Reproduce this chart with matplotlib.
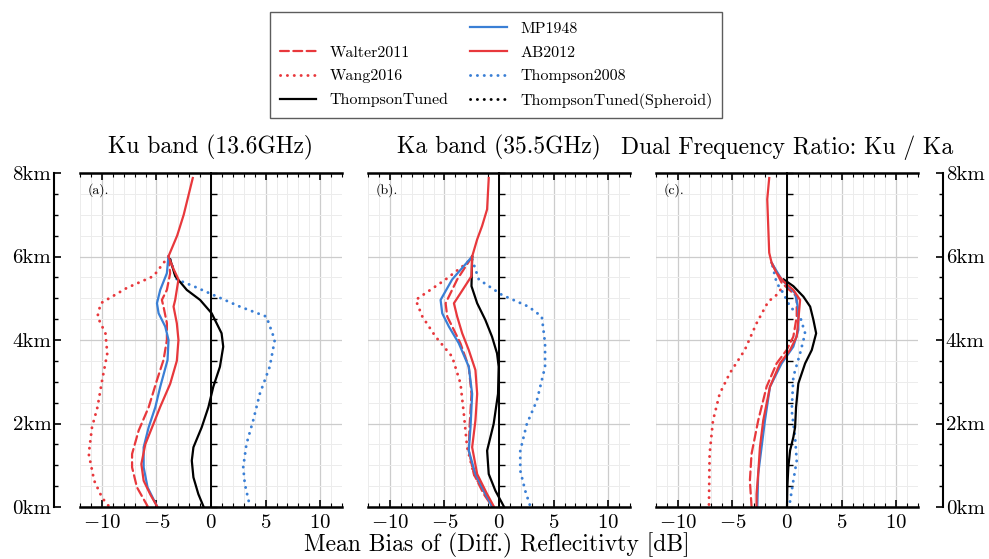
import matplotlib
matplotlib.use('Agg')
import matplotlib.pyplot as plt
from matplotlib.ticker import MultipleLocator, FuncFormatter, NullLocator
from matplotlib.lines import Line2D

plt.rcParams['font.family'] = 'serif'
plt.rcParams['font.serif'] = ['cmr10']
plt.rcParams['mathtext.fontset'] = 'cm'
plt.rcParams['axes.formatter.use_mathtext'] = True

# ---------------- data ----------------
titles = ["Ku band (13.6GHz)", "Ka band (35.5GHz)", "Dual Frequency Ratio: Ku / Ka"]
panel_tags = ["(a).", "(b).", "(c)."]

# Ku band
ku_ab_h = [7.88, 7.0, 6.5, 6.0, 5.7, 5.45, 4.96, 4.8, 4.4, 4.0, 3.5, 2.95, 2.4, 1.9, 1.5, 1.03, 0.63, 0.3, 0.02]
ku_ab_v = [-1.67, -2.5, -3.1, -3.9, -3.43, -2.98, -3.28, -3.43, -3.13, -2.98, -3.13, -3.74, -4.65, -5.41, -6.02, -6.38, -6.17, -5.56, -4.95]
ku_mp_h = [6.0, 5.6, 5.2, 4.88, 4.64, 4.32, 4.0, 3.52, 2.88, 2.39, 1.91, 1.43, 0.95, 0.47, 0.02]
ku_mp_v = [-3.9, -4.04, -4.65, -4.95, -4.8, -4.19, -3.89, -3.98, -4.65, -5.1, -5.71, -6.17, -6.17, -5.81, -4.95]
ku_walter_h = [6.0, 5.6, 5.2, 4.96, 4.8, 4.4, 4.0, 3.52, 3.04, 2.39, 1.83, 1.27, 0.95, 0.47, 0.02]
ku_walter_v = [-3.9, -3.74, -4.04, -4.5, -4.35, -4.04, -4.04, -4.35, -4.95, -5.71, -6.63, -7.23, -7.23, -6.78, -5.81]
ku_wang_h = [6.0, 5.53, 5.25, 4.88, 4.56, 4.16, 3.68, 3.04, 2.39, 1.91, 1.27, 0.63, 0.22, 0.02]
ku_wang_v = [-3.9, -5.26, -7.69, -10.1, -10.4, -9.67, -9.5, -9.97, -10.4, -10.9, -11.2, -10.7, -9.97, -9.36]
ku_tt_h = [5.93, 5.53, 5.2, 4.96, 4.64, 4.16, 3.84, 3.36, 2.88, 2.39, 1.91, 1.43, 1.11, 0.71, 0.31, 0.02]
ku_tt_v = [-3.74, -3.28, -2.22, -1.0, 0.06, 0.97, 1.12, 0.82, 0.21, -0.24, -0.85, -1.61, -1.76, -1.61, -1.16, -0.7]
ku_t08_h = [5.93, 5.45, 5.29, 5.08, 4.8, 4.56, 4.0, 3.36, 2.71, 2.07, 1.51, 0.95, 0.55, 0.02]
ku_t08_v = [-3.74, -3.13, -1.61, 0.21, 2.64, 5.08, 5.84, 5.38, 4.47, 3.86, 3.25, 2.95, 3.1, 3.56]

# Ka band
ka_ab_h = [7.88, 7.13, 6.73, 6.41, 6.0, 5.53, 5.12, 4.88, 4.56, 4.16, 3.76, 3.28, 2.71, 2.07, 1.43, 0.79, 0.31, 0.02]
ka_ab_v = [-0.94, -1.09, -1.55, -2.0, -2.46, -2.52, -3.53, -4.13, -3.83, -3.37, -2.77, -2.16, -2.0, -2.16, -2.46, -2.0, -1.09, -0.49]
ka_mp_h = [6.0, 5.45, 4.96, 4.64, 4.32, 3.92, 3.36, 2.71, 1.91, 1.35, 0.79, 0.31, 0.02]
ka_mp_v = [-2.46, -4.29, -5.35, -5.2, -4.59, -3.68, -2.77, -2.46, -2.61, -2.77, -2.16, -1.25, -0.64]
ka_walter_h = [6.0, 5.45, 4.88, 4.56, 4.32, 3.92, 3.36, 2.71, 1.91, 1.35, 0.79, 0.31, 0.02]
ka_walter_v = [-2.46, -3.83, -4.89, -4.74, -4.28, -3.53, -2.77, -2.52, -2.7, -2.77, -2.31, -1.4, -0.64]
ka_wang_h = [6.0, 5.85, 5.45, 4.96, 4.56, 4.08, 3.6, 2.96, 2.23, 1.43, 0.79, 0.31, 0.02]
ka_wang_v = [-2.46, -2.92, -4.89, -7.63, -7.02, -5.81, -4.29, -3.53, -3.22, -2.92, -2.31, -1.25, -0.64]
ka_tt_h = [6.0, 5.29, 4.88, 4.48, 4.08, 3.68, 3.36, 2.71, 1.99, 1.35, 0.79, 0.39, 0.02]
ka_tt_v = [-2.46, -2.52, -2.0, -1.25, -0.64, -0.18, -0.03, -0.09, -0.49, -1.09, -0.94, -0.33, 0.43]
ka_t08_h = [5.93, 5.45, 5.08, 4.8, 4.56, 3.92, 3.36, 2.55, 1.99, 1.35, 0.87, 0.39, 0.02]
ka_t08_v = [-2.46, -1.85, 0.27, 2.7, 3.92, 4.22, 4.22, 3.47, 2.55, 1.95, 1.95, 2.4, 2.86]

# Dual frequency ratio
dfr_ab_h = [7.88, 7.37, 6.73, 6.09, 5.85, 5.6, 5.41, 5.2, 4.96, 4.48, 4.08, 3.76, 3.44, 2.88, 2.07, 1.43, 0.79, 0.31, 0.02]
dfr_ab_v = [-1.63, -1.81, -1.72, -1.63, -1.41, -0.95, -0.34, 0.58, 1.2, 1.04, 0.89, 0.28, -0.64, -1.56, -2.18, -2.48, -2.64, -2.79, -2.79]
dfr_mp_h = [5.85, 5.45, 5.12, 4.72, 4.24, 3.84, 3.44, 2.88, 2.07, 1.43, 0.79, 0.02]
dfr_mp_v = [-1.41, -0.49, 0.74, 1.04, 1.04, 0.58, -0.49, -1.56, -2.02, -2.33, -2.64, -2.72]
dfr_walter_h = [5.85, 5.37, 5.04, 4.56, 4.08, 3.76, 3.44, 2.88, 2.07, 1.27, 0.63, 0.02]
dfr_walter_v = [-1.41, -0.49, 0.89, 0.89, 0.58, -0.03, -0.95, -1.87, -2.64, -3.25, -3.4, -3.25]
dfr_wang_h = [5.2, 5.08, 4.92, 4.4, 3.76, 3.2, 2.71, 2.07, 1.27, 0.02]
dfr_wang_v = [-0.6, -0.95, -1.72, -2.79, -3.87, -5.25, -6.17, -6.78, -7.09, -7.15]
dfr_tt_h = [5.45, 5.29, 5.04, 4.8, 4.48, 4.16, 3.76, 3.44, 2.96, 2.39, 1.91, 1.67, 1.35, 0.95, 0.47, 0.02]
dfr_tt_v = [-0.3, 0.58, 1.5, 2.12, 2.42, 2.67, 2.27, 1.66, 1.04, 0.83, 0.74, 0.58, 0.28, 0.12, 0.03, 0.0]
dfr_t08_h = [5.77, 5.37, 5.12, 4.8, 4.56, 4.16, 3.68, 3.12, 2.31, 1.67, 1.11, 0.63, 0.02]
dfr_t08_v = [-1.32, -0.95, -0.34, 0.28, 1.2, 1.66, 1.2, 0.58, 0.43, 0.74, 0.89, 0.58, 0.21]

RED = '#e8383c'
BLUE = '#3a7fd5'
DOT = (0, (0.05, 2.3))
styles = {
    'Walter2011': dict(color=RED, ls=(0, (4, 2)), lw=1.6),
    'Wang2016': dict(color=RED, ls=DOT, lw=2.1),
    'ThompsonTuned': dict(color='black', ls='-', lw=1.6),
    'MP1948': dict(color=BLUE, ls='-', lw=1.6),
    'AB2012': dict(color=RED, ls='-', lw=1.6),
    'Thompson2008': dict(color=BLUE, ls=DOT, lw=2.1),
    'ThompsonTuned(Spheroid)': dict(color='black', ls=DOT, lw=2.1),
}

panels = [
    {'Wang2016': (ku_wang_v, ku_wang_h), 'Thompson2008': (ku_t08_v, ku_t08_h),
     'ThompsonTuned': (ku_tt_v, ku_tt_h), 'Walter2011': (ku_walter_v, ku_walter_h),
     'MP1948': (ku_mp_v, ku_mp_h), 'AB2012': (ku_ab_v, ku_ab_h)},
    {'Wang2016': (ka_wang_v, ka_wang_h), 'Thompson2008': (ka_t08_v, ka_t08_h),
     'ThompsonTuned': (ka_tt_v, ka_tt_h), 'Walter2011': (ka_walter_v, ka_walter_h),
     'MP1948': (ka_mp_v, ka_mp_h), 'AB2012': (ka_ab_v, ka_ab_h)},
    {'Wang2016': (dfr_wang_v, dfr_wang_h), 'Thompson2008': (dfr_t08_v, dfr_t08_h),
     'ThompsonTuned': (dfr_tt_v, dfr_tt_h), 'Walter2011': (dfr_walter_v, dfr_walter_h),
     'MP1948': (dfr_mp_v, dfr_mp_h), 'AB2012': (dfr_ab_v, dfr_ab_h)},
]

# ---------------- figure ----------------
fig = plt.figure(figsize=(9.89, 5.59), dpi=100)
W, H = 989, 559
lefts = [80, 368, 656]
pw = 262
top_px, bot_px = 173, 507

km_fmt = FuncFormatter(lambda v, p: f"{int(round(v))}km")

axes = []
for i, lp in enumerate(lefts):
    rect = [lp / W, 1 - bot_px / H, pw / W, (bot_px - top_px) / H]
    ax = fig.add_axes(rect)
    axes.append(ax)
    for name, (v, h) in panels[i].items():
        st = styles[name]
        ax.plot(v, h, color=st['color'], ls=st['ls'], lw=st['lw'],
                dash_capstyle='round')
    ax.set_xlim(-12, 12)
    ax.set_ylim(0, 8)
    ax.xaxis.set_major_locator(MultipleLocator(5))
    ax.xaxis.set_minor_locator(MultipleLocator(1))
    ax.yaxis.set_major_locator(MultipleLocator(2))
    ax.yaxis.set_minor_locator(MultipleLocator(0.5))
    ax.grid(which='major', color='#cccccc', lw=0.9)
    ax.grid(which='minor', color='#ececec', lw=0.7)
    ax.set_axisbelow(True)
    ax.spines['right'].set_visible(False)
    ax.spines['left'].set_position(('data', 0))
    ax.spines['left'].set_linewidth(1.4)
    ax.spines['top'].set_linewidth(1.8)
    ax.spines['bottom'].set_linewidth(1.8)
    ax.tick_params(axis='x', which='both', direction='in', top=True, bottom=True,
                   labelsize=15, pad=5)
    ax.tick_params(axis='x', which='major', length=5, width=1.2)
    ax.tick_params(axis='x', which='minor', length=3, width=0.8)
    ax.tick_params(axis='y', which='both', direction='in', left=True, labelleft=False,
                   length=4, width=1.0)
    ax.set_title(titles[i], fontsize=17, pad=14)
    ax.text(0.03, 0.97, panel_tags[i], transform=ax.transAxes, fontsize=10,
            ha='left', va='top')

# outer height axes (separate axes showing only one spine); offsets in points
for idx, side, off in ((0, 'left', 18.7), (2, 'right', 18.0)):
    lp = lefts[idx]
    rect = [lp / W, 1 - bot_px / H, pw / W, (bot_px - top_px) / H]
    oa = fig.add_axes(rect, zorder=-1)
    oa.patch.set_visible(False)
    oa.set_ylim(0, 8)
    oa.set_xlim(0, 1)
    oa.xaxis.set_major_locator(NullLocator())
    oa.xaxis.set_minor_locator(NullLocator())
    for s in ('top', 'bottom', 'left', 'right'):
        oa.spines[s].set_visible(s == side)
    oa.spines[side].set_position(('outward', off))
    oa.spines[side].set_linewidth(1.5)
    oa.yaxis.set_ticks_position(side)
    oa.yaxis.set_label_position(side)
    oa.yaxis.set_major_locator(MultipleLocator(2))
    oa.yaxis.set_minor_locator(MultipleLocator(0.5))
    oa.yaxis.set_major_formatter(km_fmt)
    oa.tick_params(axis='y', which='both', direction='in', labelsize=15, pad=2)
    oa.tick_params(axis='y', which='major', length=5, width=1.2)
    oa.tick_params(axis='y', which='minor', length=3, width=1.0)

fig.text(497 / W, 1 - 545 / H, "Mean Bias of (Diff.) Reflecitivty [dB]",
         ha='center', va='center', fontsize=17)

# legend
order = [None, 'Walter2011', 'Wang2016', 'ThompsonTuned',
         'MP1948', 'AB2012', 'Thompson2008', 'ThompsonTuned(Spheroid)']
handles, labels = [], []
for name in order:
    if name is None:
        handles.append(Line2D([], [], color='none'))
        labels.append(' ')
    else:
        st = styles[name]
        handles.append(Line2D([], [], color=st['color'], ls=st['ls'], lw=st['lw'],
                              dash_capstyle='round'))
        labels.append(name)
leg = fig.legend(handles, labels, ncol=2, loc='upper center',
                 bbox_to_anchor=(496 / W, 1 - 12 / H), fontsize=11.5,
                 frameon=True, fancybox=False, edgecolor='#333333',
                 handlelength=2.3, columnspacing=1.4, labelspacing=0.6,
                 borderpad=0.6, borderaxespad=0)
leg.get_frame().set_linewidth(1.0)

fig.savefig('out.png', dpi=100)
